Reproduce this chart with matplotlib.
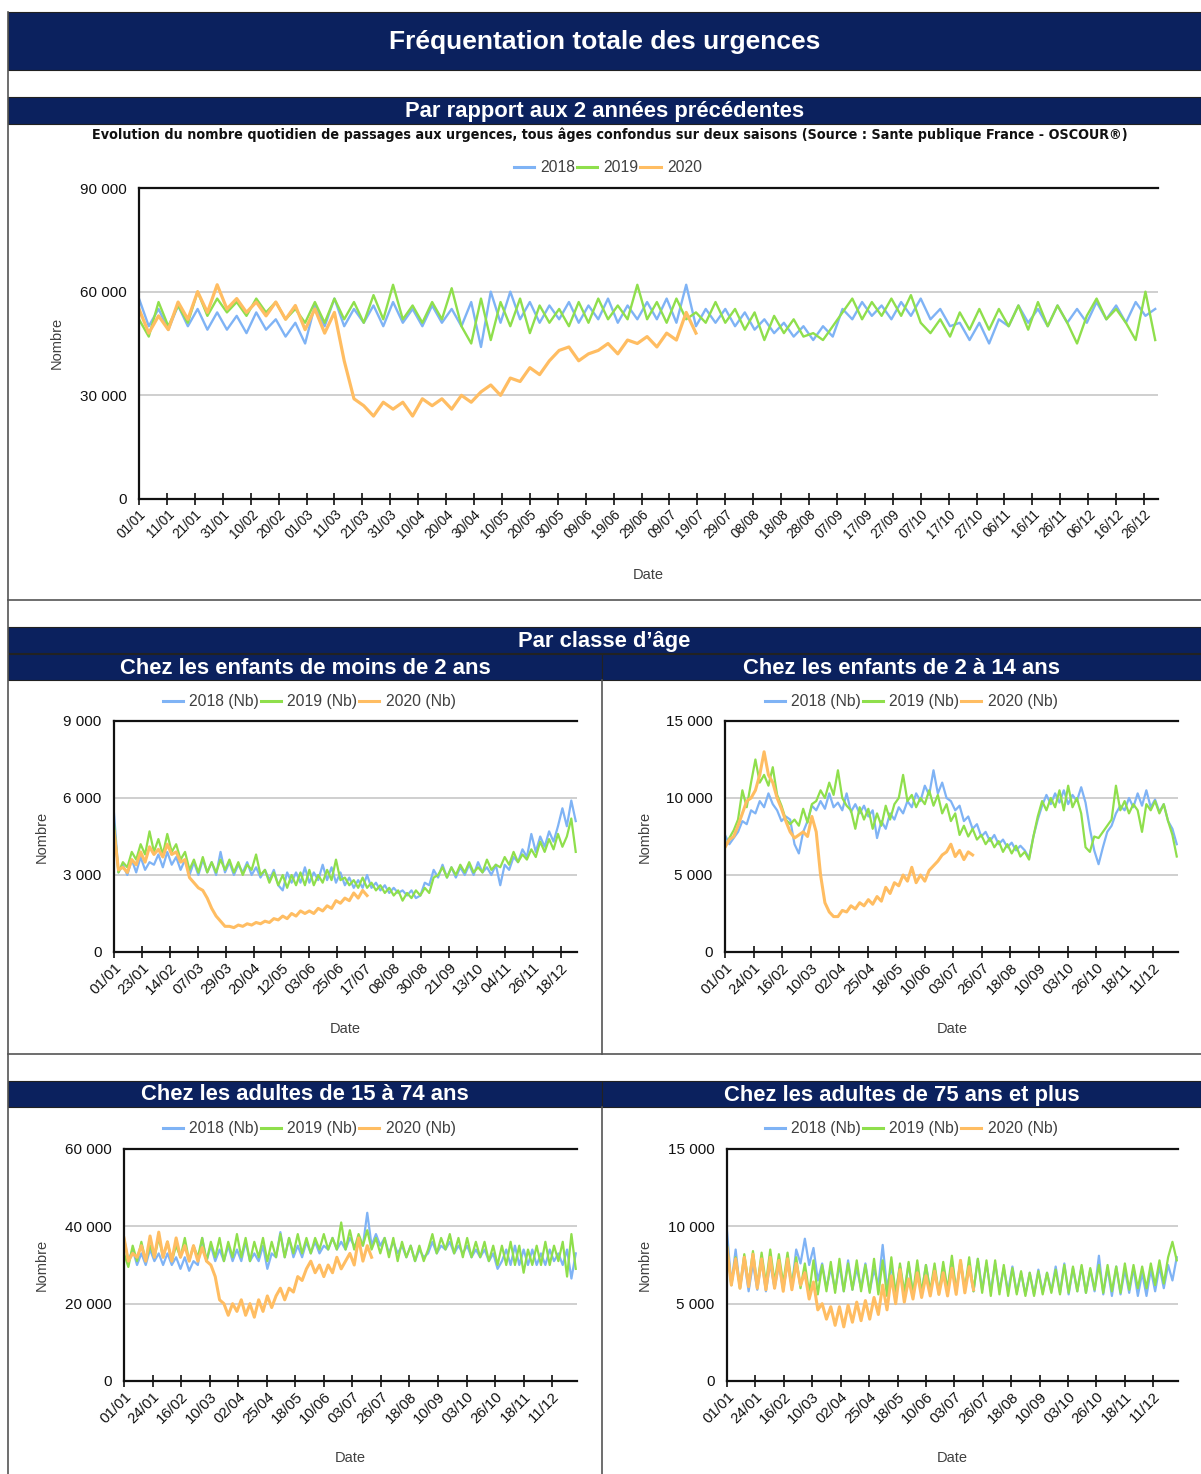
import datetime as dt
import numpy as np
import matplotlib
matplotlib.use("Agg")
import matplotlib.pyplot as plt
from matplotlib import font_manager
from matplotlib.patches import Rectangle
from matplotlib.lines import Line2D

plt.rcParams['font.family'] = ['Liberation Sans', 'DejaVu Sans']

# daily counts, one value every 3.5 days, in thousands
step_days = 3.5

total_2018 = [58, 50, 55, 49, 56, 50, 55, 49, 54,
              49, 53, 48, 54, 49, 52, 47, 51,
              45, 56, 50, 58, 50, 55, 51, 56, 50,
              57, 51, 55, 50, 56, 51, 55, 50, 57,
              44, 60, 51, 60, 52, 57, 51, 56,
              52, 57, 51, 56, 52, 58, 51, 56, 52,
              57, 52, 58, 51, 62, 50, 55, 51, 55,
              50, 54, 49, 52, 48, 51, 47, 50, 46,
              50, 47, 55, 52, 57, 53, 56, 52,
              57, 53, 58, 52, 55, 50, 51, 46, 51,
              45, 52, 50, 56, 51, 55, 50, 56, 51,
              55, 51, 57, 52, 56, 51, 57, 53, 55]
total_2019 = [52, 47, 57, 50, 56, 51, 60, 53, 58,
              54, 57, 53, 58, 54, 57, 52, 55,
              51, 57, 51, 58, 52, 57, 51, 59, 52,
              62, 52, 56, 51, 57, 52, 61, 50, 45,
              58, 46, 57, 50, 58, 48, 56, 51,
              55, 50, 57, 51, 58, 52, 56, 52, 62,
              52, 57, 51, 58, 52, 54, 51, 57, 51,
              55, 49, 54, 46, 53, 48, 52, 47, 48,
              46, 50, 54, 58, 52, 57, 53, 58,
              53, 59, 51, 48, 52, 47, 54, 49, 55,
              49, 55, 50, 56, 49, 57, 50, 56, 51,
              45, 53, 58, 52, 55, 51, 46, 60, 46]
total_2020 = [55, 48, 53, 49, 57, 52, 60, 54, 62,
              55, 58, 54, 57, 53, 57, 52, 56,
              49, 55, 48, 54, 40, 29, 27, 24, 28,
              26, 28, 24, 29, 27, 29, 26, 30, 28,
              31, 33, 30, 35, 34, 38, 36, 40,
              43, 44, 40, 42, 43, 45, 42, 46, 45,
              47, 44, 48, 46, 54, 48]

under2_2018 = [5.4, 3.1, 3.4, 3.0, 3.6, 3.1, 3.7, 3.2, 3.5,
               3.4, 3.8, 3.3, 3.9, 3.4, 3.7, 3.2, 3.6,
               3.0, 3.5, 3.0, 3.6, 3.1, 3.5, 3.0, 3.9, 3.1,
               3.5, 3.0, 3.4, 3.1, 3.5, 3.0, 3.3, 2.9, 3.2,
               2.8, 3.2, 2.6, 2.4, 3.1, 2.7, 3.1, 2.7,
               3.3, 2.7, 3.1, 2.8, 3.4, 2.8, 3.3, 2.7, 3.1,
               2.6, 2.9, 2.5, 2.8, 2.5, 3.0, 2.5, 2.7, 2.4,
               2.6, 2.3, 2.5, 2.3, 2.4, 2.2, 2.4, 2.1, 2.2,
               2.7, 2.6, 3.2, 2.9, 3.4, 2.9, 3.3, 2.9,
               3.3, 3.0, 3.4, 3.0, 3.5, 3.1, 3.3, 3.0, 3.4,
               2.6, 3.4, 3.2, 3.7, 3.5, 4.0, 3.7, 4.6, 3.9,
               4.5, 4.1, 4.7, 4.3, 4.9, 5.6, 4.9, 5.9, 5.1]
under2_2019 = [5.0, 3.1, 3.5, 3.3, 3.9, 3.6, 4.2, 3.8, 4.7,
               3.9, 4.4, 3.8, 4.6, 3.9, 4.2, 3.6, 3.9,
               3.2, 3.6, 3.1, 3.7, 3.1, 3.5, 3.1, 3.6, 3.2,
               3.6, 3.1, 3.5, 3.0, 3.4, 3.2, 3.8, 3.0, 3.2,
               2.7, 3.1, 2.6, 3.0, 2.5, 3.0, 2.6, 3.1,
               2.6, 3.2, 2.6, 3.0, 2.7, 3.2, 2.8, 3.6, 2.8,
               2.9, 2.6, 2.8, 2.5, 2.9, 2.5, 2.7, 2.4, 2.6,
               2.3, 2.5, 2.2, 2.4, 2.0, 2.3, 2.1, 2.4, 2.2,
               2.5, 2.3, 2.9, 3.0, 3.3, 2.9, 3.3, 3.0,
               3.4, 3.1, 3.5, 3.1, 3.3, 3.1, 3.6, 3.2, 3.4,
               3.3, 3.7, 3.4, 3.9, 3.5, 3.8, 3.6, 4.0, 3.7,
               4.3, 3.9, 4.4, 4.0, 4.6, 4.1, 4.5, 5.2, 3.9]
under2_2020 = [4.7, 3.2, 3.3, 3.1, 3.6, 3.4, 3.9, 3.5, 4.1,
               3.8, 4.0, 3.7, 4.2, 3.8, 3.9, 3.5, 3.6,
               2.9, 2.7, 2.5, 2.4, 2.1, 1.7, 1.4, 1.2, 1.0,
               1.0, 0.95, 1.05, 1.0, 1.1, 1.05, 1.15, 1.1, 1.2,
               1.15, 1.3, 1.25, 1.4, 1.3, 1.5, 1.4, 1.6,
               1.5, 1.6, 1.5, 1.7, 1.6, 1.8, 1.7, 2.0, 1.9,
               2.1, 2.0, 2.3, 2.1, 2.4, 2.2]

kids_2018 = [7.6, 7.0, 7.4, 7.8, 8.5, 8.3, 9.2, 9.0, 9.8,
             9.4, 10.3, 9.6, 9.2, 8.5, 8.8, 8.6, 7.0,
             6.4, 7.8, 8.5, 9.5, 9.2, 9.8, 9.3, 10.3, 9.4,
             9.7, 9.2, 10.3, 9.1, 9.6, 9.0, 9.5, 8.8, 9.2,
             7.4, 8.5, 8.0, 9.0, 8.6, 9.4, 9.0, 9.8,
             9.4, 10.3, 9.8, 10.8, 10.2, 11.8, 10.3, 11.0, 10.0,
             9.8, 9.2, 9.5, 8.5, 8.8, 8.0, 8.3, 7.5, 7.8,
             7.2, 7.6, 7.0, 7.3, 6.8, 7.1, 6.6, 6.9, 6.6,
             6.1, 7.5, 8.6, 9.5, 10.2, 9.6, 10.3, 9.7,
             10.5, 9.6, 10.2, 9.8, 10.7, 9.7, 8.0, 6.6, 5.7,
             6.8, 7.8, 8.2, 9.0, 9.5, 9.2, 10.0, 9.4, 10.3,
             9.5, 10.5, 9.4, 9.9, 9.1, 9.6, 8.5, 8.0, 7.0]
kids_2019 = [6.8, 7.4, 7.9, 8.6, 10.5, 9.4, 11.0, 12.5, 11.0,
             11.5, 10.8, 12.0, 10.2, 9.5, 8.6, 8.3, 8.6,
             8.2, 9.3, 8.4, 9.6, 9.8, 10.5, 10.0, 11.0, 10.2,
             11.8, 10.0, 9.5, 9.2, 8.0, 9.4, 8.6, 9.3, 8.0,
             9.0, 8.2, 9.5, 8.6, 9.6, 10.0, 11.5, 9.8,
             10.2, 9.4, 10.0, 9.6, 10.5, 9.5, 10.2, 9.0, 9.6,
             8.5, 9.0, 7.6, 8.2, 7.5, 8.0, 7.3, 7.6, 7.0,
             7.4, 6.8, 7.2, 6.5, 7.0, 6.4, 6.9, 6.2, 6.5,
             6.0, 7.5, 8.8, 9.8, 9.2, 10.0, 9.4, 10.5,
             9.2, 10.8, 9.4, 10.0, 9.0, 6.8, 6.5, 7.5, 7.4,
             7.8, 8.2, 8.6, 10.8, 9.2, 9.8, 9.0, 9.6, 9.2,
             7.8, 9.6, 9.2, 9.8, 9.0, 9.6, 8.5, 7.6, 6.2]
kids_2020 = [6.8, 7.3, 7.5, 8.2, 9.0, 9.8, 10.0, 10.5, 11.5,
             13.0, 11.5, 11.0, 10.0, 9.3, 8.5, 7.8, 7.4,
             7.6, 7.8, 7.5, 8.8, 7.8, 5.0, 3.2, 2.6, 2.3,
             2.3, 2.7, 2.6, 3.0, 2.8, 3.2, 3.0, 3.4, 3.1,
             3.6, 3.3, 4.2, 3.8, 4.5, 4.3, 5.0, 4.6,
             5.5, 4.5, 5.0, 4.6, 5.3, 5.6, 5.9, 6.3, 6.5,
             7.0, 6.2, 6.6, 6.0, 6.5, 6.3]

adults_2018 = [37, 31, 34, 30, 33, 30, 34, 31, 33,
               30, 33, 30, 32, 29, 32, 28.5, 31,
               30, 37, 31, 35, 31, 34, 31, 35, 31,
               34, 31, 36, 31, 33, 31, 35, 29, 33,
               32, 38.5, 32, 37, 32, 35, 32, 36,
               33, 36, 33, 35, 34, 37, 34, 36, 34,
               37, 35, 36, 35, 43.5, 35, 38, 35, 37,
               33, 36, 33, 35, 32, 35, 31, 34, 32,
               33, 36, 33, 35, 34, 36, 33, 35,
               33, 35, 32, 34, 32, 34, 31, 33, 29,
               31, 34, 30, 35, 30, 34, 30, 34, 30,
               33, 30, 34, 31, 33, 30, 34, 26.5, 33]
adults_2019 = [33, 29.5, 35, 31, 36, 31, 35, 32, 37,
               32, 36, 31, 35, 32, 37, 31, 35,
               32, 37, 31, 36, 32, 37, 31, 36, 32,
               38, 32, 37, 31, 36, 32, 37, 31, 36,
               32, 38, 32, 37, 33, 38, 33, 37,
               33, 37, 34, 38, 34, 37, 34, 41, 34,
               39, 34, 38, 35, 39, 34, 37, 33, 37,
               32, 37, 31, 36, 32, 35, 31, 35, 31,
               34, 38, 33, 37, 34, 38, 33, 37,
               32, 37, 32, 36, 32, 36, 31, 35, 30,
               35, 30, 36, 30, 35, 28, 34, 30, 35,
               30, 36, 30, 35, 31, 36, 27, 38, 29]
adults_2020 = [37, 31, 33, 32, 35, 31, 37.5, 32, 38.5,
               32, 36, 31, 37, 32, 35, 31, 35,
               31, 34.5, 31, 30, 27, 21, 20, 17, 20,
               18, 21, 17, 20, 16.5, 21, 18, 22, 19,
               22, 24, 21, 24, 23, 27, 26, 29,
               31, 28, 30, 27, 30, 28, 32, 29, 31,
               33, 30, 37, 31, 35, 32]

elderly_2018 = [9.7, 6.2, 8.5, 6.0, 7.8, 5.8, 7.6, 5.9, 7.8,
                5.8, 7.6, 6.0, 7.5, 5.9, 7.6, 6.1, 8.5,
                7.6, 9.2, 7.5, 8.6, 6.5, 7.6, 6.0, 7.3, 5.9,
                7.5, 5.8, 7.8, 5.9, 7.3, 6.0, 7.6, 5.8, 7.2,
                6.2, 8.8, 6.0, 7.4, 5.7, 7.4, 5.6, 7.6,
                5.6, 7.3, 5.7, 7.5, 5.8, 7.2, 5.7, 7.4, 5.8,
                7.8, 5.8, 7.6, 5.9, 7.4, 5.8, 7.9, 5.9, 7.6,
                5.8, 7.6, 5.9, 7.3, 5.8, 7.4, 5.7, 7.0, 5.6,
                7.0, 5.6, 7.2, 5.7, 7.0, 5.8, 7.4, 5.7,
                7.6, 5.6, 7.3, 5.8, 7.4, 5.7, 7.2, 5.8, 8.1,
                5.6, 7.3, 5.5, 7.4, 5.6, 7.2, 5.7, 7.3, 5.5,
                7.0, 5.5, 7.2, 5.8, 7.4, 6.0, 7.5, 6.5, 8.0]
elderly_2019 = [8.8, 6.2, 8.0, 6.0, 8.2, 6.3, 8.4, 6.2, 8.3,
                6.3, 8.5, 6.4, 8.2, 6.3, 8.3, 6.2, 8.0,
                6.0, 7.6, 5.7, 7.8, 5.6, 7.5, 5.8, 7.7, 5.7,
                7.9, 5.8, 7.6, 5.9, 7.8, 5.8, 7.5, 5.7, 7.9,
                5.6, 7.8, 5.5, 8.0, 5.6, 7.6, 5.7, 7.7,
                5.6, 7.8, 5.7, 7.5, 5.8, 7.6, 5.6, 7.7, 5.9,
                8.1, 5.8, 7.8, 5.9, 8.0, 5.8, 7.9, 5.7, 7.8,
                5.5, 7.8, 5.6, 7.5, 5.5, 7.3, 5.6, 7.1, 5.5,
                7.0, 5.5, 7.1, 5.6, 7.0, 5.7, 7.2, 5.6,
                7.5, 5.7, 7.4, 5.8, 7.5, 5.7, 7.3, 5.9, 7.5,
                5.7, 7.5, 5.8, 7.4, 5.7, 7.6, 5.9, 7.5, 6.0,
                7.4, 6.0, 7.6, 6.2, 7.8, 6.3, 8.0, 9.0, 7.8]
elderly_2020 = [8.6, 6.2, 7.9, 6.0, 8.0, 6.1, 8.2, 6.0, 7.9,
                5.9, 8.0, 6.0, 7.8, 5.8, 7.9, 5.9, 7.6,
                6.2, 7.0, 5.3, 6.4, 4.6, 5.0, 4.0, 4.8, 3.6,
                4.8, 3.5, 4.9, 3.8, 5.1, 3.9, 5.2, 4.0, 5.4,
                4.3, 6.2, 4.6, 6.8, 5.0, 7.2, 5.1, 6.6,
                5.3, 7.0, 5.4, 6.8, 5.5, 7.1, 5.6, 7.0, 5.5,
                7.3, 5.6, 7.8, 5.7, 7.4, 5.9]

years = ["2018", "2019", "2020"]
colors = ["#7fb3f5", "#8fdf4c", "#ffbd62"]

W, H = 1201, 1474
NAVY = "#0b215e"
base = dt.date(2020, 1, 1)

fig = plt.figure(figsize=(W / 100, H / 100), dpi=100)

# background layer in pixel coordinates for the dashboard frame
bg = fig.add_axes([0, 0, 1, 1], zorder=0)
bg.set_xlim(0, W)
bg.set_ylim(H, 0)
bg.axis('off')

# look for a condensed bold face for the subtitle
sub_font = None
for f in font_manager.fontManager.ttflist:
    nm = (f.name + " " + f.fname).lower()
    if ('narrow' in nm or 'condensed' in nm) and f.weight in ('bold', 700) and f.style == 'normal':
        sub_font = font_manager.FontProperties(fname=f.fname, size=11)
        break
if sub_font is None:
    sub_font = font_manager.FontProperties(family='Liberation Sans', weight='bold', size=10.6)


def bar(x, y, w, h, text, size):
    bg.add_patch(Rectangle((x, y), w, h, facecolor=NAVY, edgecolor='#222222', lw=0.8))
    bg.text(x + w / 2, y + h / 2 + 1, text, color='white', fontsize=size,
            fontweight='bold', ha='center', va='center')


# frame lines
line_kw = dict(color='#555555', lw=1.2)
bg.plot([8, 8], [12, H], **line_kw)
bg.plot([8, W], [600, 600], **line_kw)
bg.plot([8, W], [1054, 1054], **line_kw)
bg.plot([602, 602], [680, 1054], **line_kw)
bg.plot([602, 602], [1107, H], **line_kw)

bar(8, 12, W - 8, 58, "Fréquentation totale des urgences", 19)
bar(8, 97, W - 8, 27, "Par rapport aux 2 années précédentes", 15.8)
bar(8, 627, W - 8, 26, "Par classe d’âge", 15.8)
bar(8, 654, 594, 26, "Chez les enfants de moins de 2 ans", 15.8)
bar(602, 654, W - 602, 26, "Chez les enfants de 2 à 14 ans", 15.8)
bar(8, 1081, 594, 26, "Chez les adultes de 15 à 74 ans", 15.8)
bar(602, 1081, W - 602, 26, "Chez les adultes de 75 ans et plus", 15.8)

subtitle = bg.text(610, 135, "Evolution du nombre quotidien de passages aux urgences, tous âges "
                   "confondus sur deux saisons (Source : Sante publique France - OSCOUR®)",
                   fontproperties=sub_font, ha='center', va='center', color='#111111')
# fit the subtitle to the width it has in the original (about 1030 px)
renderer = fig.canvas.get_renderer()
width_px = subtitle.get_window_extent(renderer).width
sub_font.set_size(sub_font.get_size() * 1030 / width_px)
subtitle.set_fontproperties(sub_font)


def fmt(v, pos):
    return f"{int(round(v)):,}".replace(",", " ")


def chart(box, data, ymax, ystep, tick_every, legend_xy, nombre_xy, date_xy,
          suffix, xfs, lw_main, lw_2020):
    l, t, r, b = box
    ax = fig.add_axes([l / W, 1 - b / H, (r - l) / W, (b - t) / H], zorder=2)
    for vals, c, yr in zip(data, colors, years):
        days = np.arange(len(vals)) * step_days
        lw = lw_2020 if yr == "2020" else lw_main
        ax.plot(days, np.array(vals) * 1000, color=c, lw=lw, solid_joinstyle='round')
    ax.set_xlim(0, 365)
    ax.set_ylim(0, ymax)
    ax.set_yticks(np.arange(0, ymax + 1, ystep))
    ax.yaxis.set_major_formatter(plt.FuncFormatter(fmt))
    ax.yaxis.grid(True, color='#cfcfcf', lw=1.4)
    ax.set_axisbelow(True)
    ticks = np.arange(0, 365, tick_every)
    ax.set_xticks(ticks)
    ax.set_xticklabels([(base + dt.timedelta(days=int(d))).strftime('%d/%m') for d in ticks],
                       rotation=45, ha='right', rotation_mode='anchor')
    ax.tick_params(axis='x', direction='inout', length=8, width=1.2, labelsize=xfs,
                   pad=2, colors='#111111')
    ax.tick_params(axis='y', length=0, pad=9, labelsize=11, colors='#111111')
    ax.spines['right'].set_visible(False)
    for s in ('left', 'bottom', 'top'):
        ax.spines[s].set_linewidth(1.6)
        ax.spines[s].set_color('#111111')
    handles = [Line2D([], [], color=c, lw=2.2) for c in colors]
    ax.legend(handles, [y + suffix for y in years], loc='center',
              bbox_to_anchor=(legend_xy[0] / W, 1 - legend_xy[1] / H),
              bbox_transform=fig.transFigure, ncol=3, frameon=False,
              handlelength=1.3, handletextpad=0.4, columnspacing=0.1,
              fontsize=11.3, labelcolor='#404040')
    bg.text(nombre_xy[0], nombre_xy[1], "Nombre", rotation=90, fontsize=10.5,
            color='#404040', ha='center', va='center')
    bg.text(date_xy[0], date_xy[1], "Date", fontsize=10.5, color='#404040',
            ha='center', va='center')
    return ax


chart((139, 188, 1158, 499), [total_2018, total_2019, total_2020], 90000, 30000, 10,
      (608, 168), (57, 343), (648, 575), "", 9.8, 1.7, 2.3)
chart((114, 721, 577, 952), [under2_2018, under2_2019, under2_2020], 9000, 3000, 22,
      (309, 702), (42, 837), (345, 1029), " (Nb)", 10.8, 1.6, 2.2)
chart((725, 721, 1178, 952), [kids_2018, kids_2019, kids_2020], 15000, 5000, 23,
      (911, 702), (645, 837), (952, 1029), " (Nb)", 10.8, 1.6, 2.2)
chart((124, 1149, 577, 1381), [adults_2018, adults_2019, adults_2020], 60000, 20000, 23,
      (309, 1129), (42, 1265), (350, 1458), " (Nb)", 10.8, 1.6, 2.2)
chart((727, 1149, 1178, 1381), [elderly_2018, elderly_2019, elderly_2020], 15000, 5000, 23,
      (911, 1129), (645, 1265), (952, 1458), " (Nb)", 10.8, 1.6, 2.2)

fig.savefig('out.png', dpi=100)
